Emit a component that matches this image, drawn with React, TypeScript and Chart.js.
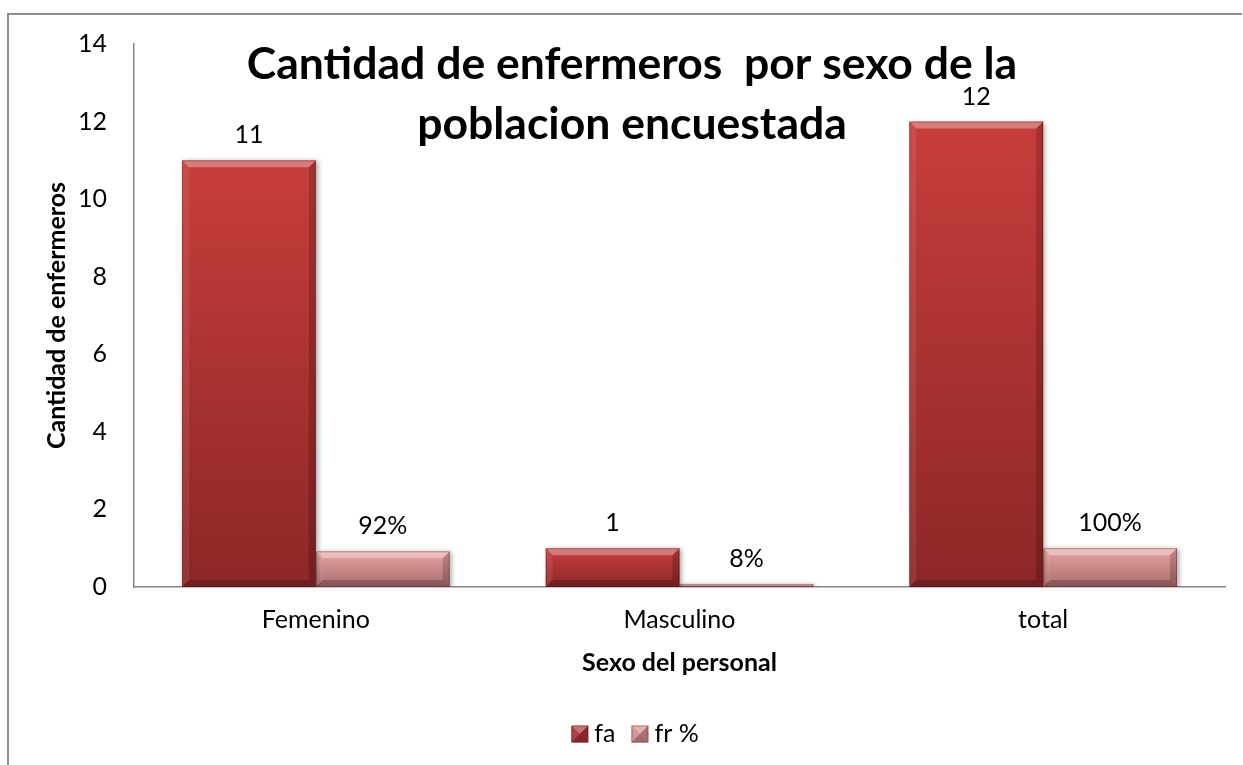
import React, { useEffect, useRef } from 'react';
import { Chart, registerables } from 'chart.js';

Chart.register(...registerables);

const categories = ['Femenino', 'Masculino', 'total'];
const faValues = [11, 1, 12];
const frValues = [0.92, 0.08, 1];
const seriesNames = ['fa', 'fr %'];
const legendFills = ['#a83232', '#d28c8c'];
const titleLines = ['Cantidad de enfermeros  por sexo de la', 'poblacion encuestada'];
const yAxisTitle = 'Cantidad de enfermeros';
const xAxisTitle = 'Sexo del personal';
const yMin = 0;
const yMax = 14;
const yStep = 2;

const FONT = 'Lato, "Open Sans", sans-serif';
const FS = 25;
const LEGEND_BOX = 17;

function barGradient(top: string, bottom: string) {
  return (ctx: any) => {
    const chart = ctx.chart;
    const y = chart.scales && chart.scales.y;
    if (!y || ctx.type !== 'data') return bottom;
    const v = ctx.raw as number;
    const yTop = y.getPixelForValue(v);
    const yBase = y.getPixelForValue(0);
    if (!isFinite(yTop) || !isFinite(yBase) || Math.abs(yBase - yTop) < 1) return bottom;
    const g = chart.ctx.createLinearGradient(0, yTop, 0, yBase);
    g.addColorStop(0, top);
    g.addColorStop(1, bottom);
    return g;
  };
}

const backgroundPlugin = {
  id: 'bgBorder',
  beforeDraw(chart: any) {
    const c = chart.ctx;
    c.save();
    c.fillStyle = '#ffffff';
    c.fillRect(0, 0, chart.width, chart.height);
    c.strokeStyle = '#8f8f8f';
    c.lineWidth = 2;
    c.beginPath();
    c.moveTo(8, chart.height + 2);
    c.lineTo(8, 14);
    c.lineTo(chart.width - 1, 14);
    c.stroke();
    c.restore();
  },
};

const shadowPlugin = {
  id: 'barShadow',
  beforeDatasetsDraw(chart: any) {
    const c = chart.ctx;
    c.save();
    c.shadowColor = 'rgba(0,0,0,0.35)';
    c.shadowBlur = 5;
    c.shadowOffsetX = 2;
    c.shadowOffsetY = 1;
  },
  afterDatasetsDraw(chart: any) {
    chart.ctx.restore();
  },
};

function drawBevel(c: CanvasRenderingContext2D, l: number, t: number, r: number, b: number, size: number) {
  const h = b - t;
  const w = r - l;
  const bv = Math.min(size, h / 2, w / 2);
  if (bv <= 0) return;
  c.save();
  c.fillStyle = 'rgba(255,255,255,0.32)';
  c.beginPath();
  c.moveTo(l, t); c.lineTo(r, t); c.lineTo(r - bv, t + bv); c.lineTo(l + bv, t + bv); c.closePath();
  c.fill();
  c.fillStyle = 'rgba(255,255,255,0.08)';
  c.beginPath();
  c.moveTo(l, t); c.lineTo(l + bv, t + bv); c.lineTo(l + bv, b - bv); c.lineTo(l, b); c.closePath();
  c.fill();
  c.fillStyle = 'rgba(0,0,0,0.18)';
  c.beginPath();
  c.moveTo(r, t); c.lineTo(r - bv, t + bv); c.lineTo(r - bv, b - bv); c.lineTo(r, b); c.closePath();
  c.fill();
  c.fillStyle = 'rgba(0,0,0,0.22)';
  c.beginPath();
  c.moveTo(l, b); c.lineTo(l + bv, b - bv); c.lineTo(r - bv, b - bv); c.lineTo(r, b); c.closePath();
  c.fill();
  c.strokeStyle = 'rgba(90,20,20,0.35)';
  c.lineWidth = 1;
  c.strokeRect(l + 0.5, t + 0.5, w - 1, h - 1);
  c.restore();
}

const bevelPlugin = {
  id: 'bevel',
  afterDatasetsDraw(chart: any) {
    const c = chart.ctx;
    chart.data.datasets.forEach((_ds: any, di: number) => {
      const meta = chart.getDatasetMeta(di);
      meta.data.forEach((bar: any) => {
        const { x, y, base, width } = bar.getProps(['x', 'y', 'base', 'width'], true);
        drawBevel(c, x - width / 2, Math.min(y, base), x + width / 2, Math.max(y, base), 7);
      });
    });
  },
};

const legendPlugin = {
  id: 'customLegend',
  afterDraw(chart: any) {
    const c = chart.ctx;
    c.save();
    c.font = `${FS}px ${FONT}`;
    c.textBaseline = 'middle';
    c.textAlign = 'left';
    const gapBoxText = 6;
    const gapItems = 16;
    const labels = chart.data.datasets.map((ds: any) => ds.label as string);
    const widths = labels.map((t: string) => LEGEND_BOX + gapBoxText + c.measureText(t).width);
    const total = widths.reduce((a: number, b: number) => a + b, 0) + gapItems * (labels.length - 1);
    const cy = 734;
    let x = 635 - total / 2;
    labels.forEach((t: string, i: number) => {
      const top = cy - LEGEND_BOX / 2;
      c.fillStyle = legendFills[i];
      c.fillRect(x, top, LEGEND_BOX, LEGEND_BOX);
      drawBevel(c, x, top, x + LEGEND_BOX, top + LEGEND_BOX, LEGEND_BOX / 2);
      c.fillStyle = '#000';
      c.fillText(t, x + LEGEND_BOX + gapBoxText, cy);
      x += widths[i] + gapItems;
    });
    c.restore();
  },
};

const valueLabelPlugin = {
  id: 'valueLabels',
  afterDatasetsDraw(chart: any) {
    const c = chart.ctx;
    c.save();
    c.font = `${FS}px ${FONT}`;
    c.fillStyle = '#000';
    c.textAlign = 'center';
    c.textBaseline = 'middle';
    chart.data.datasets.forEach((ds: any, di: number) => {
      const meta = chart.getDatasetMeta(di);
      meta.data.forEach((bar: any, i: number) => {
        const v = ds.data[i] as number;
        const txt = di === 0 ? String(v) : `${Math.round(v * 100)}%`;
        c.fillText(txt, bar.x, bar.y - 25);
      });
    });
    c.restore();
  },
};

const titlePlugin = {
  id: 'overlayTitle',
  afterDraw(chart: any) {
    const c = chart.ctx;
    c.save();
    c.font = `bold 44.5px ${FONT}`;
    c.fillStyle = '#000';
    c.textAlign = 'center';
    c.textBaseline = 'alphabetic';
    c.fillText(titleLines[0], 632, 79);
    c.fillText(titleLines[1], 632, 139);
    c.restore();
  },
};

export default function App() {
  const ref = useRef<HTMLCanvasElement | null>(null);

  useEffect(() => {
    if (!ref.current) return;
    const chart = new Chart(ref.current, {
      type: 'bar',
      data: {
        labels: categories,
        datasets: [
          {
            label: seriesNames[0],
            data: faValues,
            backgroundColor: barGradient('#c73e3c', '#8c2727'),
            borderWidth: 0,
            categoryPercentage: 0.736,
            barPercentage: 1,
          },
          {
            label: seriesNames[1],
            data: frValues,
            backgroundColor: barGradient('#e9a4a4', '#ab6d6d'),
            borderWidth: 0,
            categoryPercentage: 0.736,
            barPercentage: 1,
          },
        ],
      },
      options: {
        responsive: false,
        animation: false,
        layout: { padding: { left: 8, top: 44, right: 18, bottom: 78 } },
        plugins: {
          title: { display: false },
          tooltip: { enabled: false },
          legend: { display: false },
        },
        scales: {
          x: {
            grid: { display: false, drawTicks: false },
            border: { display: true, color: '#868686', width: 1.5 },
            ticks: { color: '#000', font: { family: FONT, size: FS }, padding: 18 },
            title: {
              display: true,
              text: xAxisTitle,
              color: '#000',
              font: { family: FONT, size: FS, weight: 'bold' },
              padding: { top: 0, bottom: 9 },
            },
            afterFit: (scale: any) => { scale.height = 100; },
          },
          y: {
            min: yMin,
            max: yMax,
            grid: { display: false, drawTicks: false },
            border: { display: true, color: '#868686', width: 1.5 },
            ticks: { stepSize: yStep, color: '#000', font: { family: FONT, size: FS }, padding: 27 },
            title: {
              display: true,
              text: yAxisTitle,
              color: '#000',
              font: { family: FONT, size: FS, weight: 'bold' },
              padding: { top: 34, bottom: 0 },
            },
            afterFit: (scale: any) => { scale.width = 126; },
          },
        },
      },
      plugins: [backgroundPlugin, shadowPlugin, bevelPlugin, valueLabelPlugin, legendPlugin, titlePlugin],
    } as any);
    return () => chart.destroy();
  }, []);

  return (
    <div style={{ position: 'fixed', left: 0, top: 0, width: 1243, height: 765 }}>
      <canvas ref={ref} width={1243} height={765} style={{ display: 'block' }} />
    </div>
  );
}
